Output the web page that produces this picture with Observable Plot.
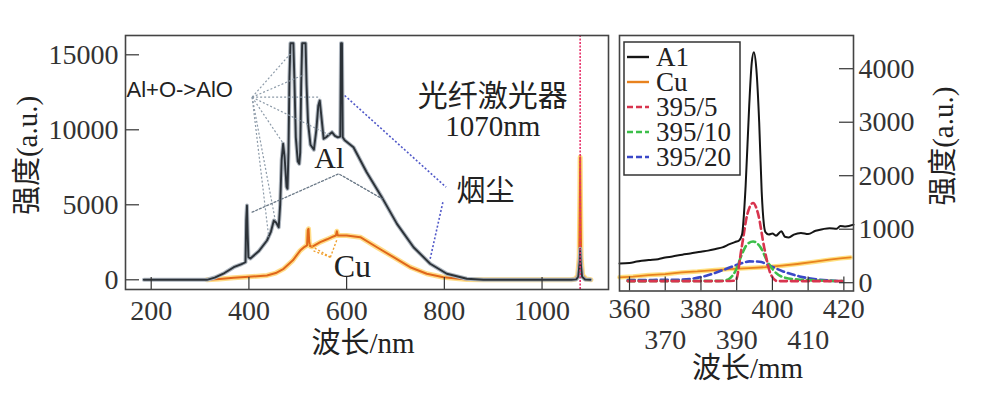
<!DOCTYPE html>
<html><head><meta charset="utf-8">
<script src="https://cdn.jsdelivr.net/npm/d3@7"></script>
<script src="https://cdn.jsdelivr.net/npm/@observablehq/plot@0.6"></script>
<style>
body{margin:0;background:#fff;}
#wrap{position:relative;width:981px;height:395px;overflow:hidden;background:#fff;}
#wrap svg{position:absolute;left:0;top:0;}
</style></head><body><div id="wrap"></div>
<script>
// ---------- Left panel data (wavelength nm, intensity a.u.) ----------
const alLeftX = [185,250,314,330,350,369,385,393,394.5,396,397.5,399,403,420,437,445,451,456,461,464,467,470,473,477,479,481,483,485,491,493,496,500,503,505,507,509,516,518,521,526,533,538,542,545,548,553,558,565,570,576,582,587,588.5,590.5,592,596,614,641,672,703,737,771,805,846,880,1060,1070,1074,1077,1078,1079,1082,1088,1099];
const alLeftY = [0,0,0,150,450,840,1050,1170,4000,4950,3000,1500,1420,1900,2620,3200,3950,3800,3500,5000,8000,9070,8200,6200,6070,8500,13500,15770,15770,13500,9500,7900,7730,8500,13000,15770,15770,13000,10500,9000,8670,10000,11600,11950,11000,9400,9500,9700,9840,9600,9500,9550,15770,15770,9500,9300,8840,7170,5510,3730,2170,1070,400,70,0,0,30,200,1200,2070,1200,200,20,0];
const cuLeftX = [314,340,369,400,437,455,471,490,505,514,519,520.5,522,523.5,525,529,546,560,573,578,580,582,600,628,662,696,730,764,798,846,880,1060,1068,1073,1076,1077.5,1078,1078.5,1080,1083,1090,1100];
const cuLeftY = [0,60,130,200,290,450,730,1300,1950,2200,2300,3300,3400,2500,2250,2200,2510,2700,2890,2950,3240,2950,2950,2840,2170,1510,840,400,170,20,0,0,50,300,1500,6000,8170,6000,1500,300,50,0];
const laserNm = [1078];
const xTicksLeft = [200,400,600,800,1000];
const yTicksLeft = [0,5000,10000,15000];

// annotation guide lines (data units)
const aloFromX = 406.6, aloFromY = 12173;
const aloToX = [485,512,546,567,469,440.6,454];
const aloToY = [15067,13667,12173,9620,9153,2840,3953];
const alPointerX = [406.6,583.8,672.6];
const alPointerY = [4507,7067,5400];
const smokeX1 = [596,797], smokeY1 = [12287,5173], smokeX2 = [803.6,771], smokeY2 = [6173,1400];
const cuFromX = 566.8, cuFromY = 1507;
const cuToX = [521.8,530,581];
const cuToY = [2353,1953,2753];
const noteText = ["Al","Cu","光纤激光器","1070nm","烟尘"];
const noteX = [564.6,611.9,899.3,899.3,884];
const noteY = [8093,893,12220,10187,5887];
const noteSize = [30,32,30,29,29];

// ---------- Right panel data (zoom around 395 nm) ----------
const alRightX = [357.2,360,362,365.4,368,370,372,374.8,377,380,382,384.1,386,388,390,390.6,391.5,392.5,393.5,394.2,394.8,395.5,396.3,397,397.6,398.1,399,400,401,402.5,403.5,404.6,406,408,410,412.1,414,416,418,419,420.5,422.7];
const alRightY = [360,370,395,424,440,470,490,524,545,580,600,630,660,720,770,785,900,1800,3300,4100,4307,4000,3000,1700,1100,940,900,920,880,960,860,847,900,930,910,972,1000,1020,1010,1060,1050,1085];
const cuRightX = [357.2,361,365.4,370,374.6,379,384,388,393.4,398,402.7,407,412,416,419,421.9];
const cuRightY = [100,115,143,160,193,210,237,255,274,290,318,350,393,430,455,473];
const red5X = [359.5,385,389.7,391.4,393.0,394.6,396.0,397.7,399.5,401.4,419.5];
const red5Y = [30,30,40,660,1285,1490,1285,660,163,30,30];
const green10X = [359.5,386,387.8,389.7,391.5,393,394.6,396.7,398.5,400.4,403.2,407.9,419.5];
const green10Y = [30,35,69,224,536,723,770,660,411,224,100,56,30];
const blue20X = [359.5,374,381.5,386.2,390.8,393.6,396.4,399.2,403,407.6,413.2,419.5];
const blue20Y = [50,56,131,237,350,398,393,318,211,118,56,30];
const xTicksRight = [360,370,380,390,400,410,420];
const xLabelsRow1 = [360,380,400,420];
const xLabelsRow2 = [370,390,410];
const yTicksRight = [0,1000,2000,3000,4000];
const legendNames = ["A1","Cu","395/5","395/10","395/20"];
const legendColors = ["#151515","#e8821e","#d8344e","#3cbf4a","#3a48c8"];
const legendDash = [null,null,"6,3","6,3","6,3"];

// ---------- helpers ----------
const zip = (xs, ys) => xs.map((x, i) => ({x, y: ys[i]}));
const serif = '"Liberation Serif","Noto Sans CJK SC",serif';
const ink = "#333";
const W = 981, H = 395;

// ---------- Left plot ----------
const L = {left:125, right:608, top:35, bottom:289};
const alL = zip(alLeftX, alLeftY), cuL = zip(cuLeftX, cuLeftY);
const aloLinks = aloToX.map((x, i) => ({x1: aloFromX, y1: aloFromY, x2: x, y2: aloToY[i]}));
const cuLinks = cuToX.map((x, i) => ({x1: cuFromX, y1: cuFromY, x2: x, y2: cuToY[i]}));
const smokeLinks = smokeX1.map((x, i) => ({x1: x, y1: smokeY1[i], x2: smokeX2[i], y2: smokeY2[i]}));
const notes = noteText.map((t, i) => ({t, x: noteX[i], y: noteY[i], s: noteSize[i]}));

const left = Plot.plot({
  width: W, height: H,
  marginLeft: L.left, marginRight: W - L.right, marginTop: L.top, marginBottom: H - L.bottom,
  x: {domain: [147.4, 1136]},
  y: {domain: [-647, 16287]},
  style: {background: "none", fontFamily: serif, fontSize: "28px", color: ink, overflow: "visible"},
  marks: [
    Plot.line(cuL, {x: "x", y: "y", stroke: "#ffd060", strokeWidth: 5, strokeOpacity: 0.75}),
    Plot.line(cuL, {x: "x", y: "y", stroke: "#e0661a", strokeWidth: 2}),
    Plot.line(alL, {x: "x", y: "y", stroke: "#aeb6bf", strokeWidth: 4}),
    Plot.line(alL, {x: "x", y: "y", stroke: "#2c3238", strokeWidth: 1.9}),
    Plot.ruleX(laserNm, {stroke: "#e8306a", strokeWidth: 1.6, strokeDasharray: "2,1.5"}),
    Plot.link(aloLinks, {x1: "x1", y1: "y1", x2: "x2", y2: "y2", stroke: "#8c9aa8", strokeWidth: 1.2, strokeDasharray: "2,2"}),
    Plot.line(zip(alPointerX, alPointerY), {x: "x", y: "y", stroke: "#6c7a88", strokeWidth: 1.3, strokeDasharray: "2,2"}),
    Plot.link(smokeLinks, {x1: "x1", y1: "y1", x2: "x2", y2: "y2", stroke: "#5058c8", strokeWidth: 1.6, strokeDasharray: "2,2"}),
    Plot.link(cuLinks, {x1: "x1", y1: "y1", x2: "x2", y2: "y2", stroke: "#f0a030", strokeWidth: 1.4, strokeDasharray: "2,2"}),
    Plot.text(["Al+O->AlO"], {x: [149.5], y: [12687], textAnchor: "start", fontFamily: '"Liberation Sans",sans-serif', fontSize: 22, fill: "#222"}),
    Plot.text(notes, {x: "x", y: "y", text: "t", fontSize: "s", fill: "#222"}),
    Plot.tickX(xTicksLeft, {x: d => d, insetTop: (L.bottom - L.top) - 12, stroke: "#333", strokeWidth: 1.2}),
    Plot.tickY(yTicksLeft, {y: d => d, insetRight: (L.right - L.left) - 14, stroke: "#333", strokeWidth: 1.2}),
    Plot.axisX({ticks: xTicksLeft, tickSize: 0, tickPadding: 11, tickFormat: d => String(d), label: null, fontSize: 28}),
    Plot.axisY({ticks: yTicksLeft, tickSize: 0, tickPadding: 7, tickFormat: d => String(d), label: null, fontSize: 28}),
    Plot.text(["强度(a.u.)"], {frameAnchor: "left", textAnchor: "middle", lineAnchor: "middle", dx: -98, dy: -7, rotate: -90, fontSize: 29, fill: "#222"}),
    Plot.text(["波长/nm"], {frameAnchor: "bottom", textAnchor: "middle", lineAnchor: "middle", dx: -4, dy: 54, fontSize: 29, fill: "#222"}),
    Plot.frame({stroke: "#444", strokeWidth: 1.6})
  ]
});

// ---------- Right plot ----------
const R = {left:619, right:853, top:35, bottom:290.5};
const right = Plot.plot({
  width: W, height: H,
  marginLeft: R.left, marginRight: W - R.right, marginTop: R.top, marginBottom: H - R.bottom,
  x: {domain: [357.2, 422.7]},
  y: {domain: [-155, 4621]},
  style: {background: "none", fontFamily: serif, fontSize: "28px", color: ink, overflow: "visible"},
  marks: [
    Plot.line(zip(cuRightX, cuRightY), {x: "x", y: "y", stroke: "#ffd860", strokeWidth: 4.5, strokeOpacity: 0.8}),
    Plot.line(zip(cuRightX, cuRightY), {x: "x", y: "y", stroke: "#e8821e", strokeWidth: 1.8}),
    Plot.line(zip(blue20X, blue20Y), {x: "x", y: "y", stroke: "#3a48c8", strokeWidth: 2.6, strokeDasharray: "7,4", curve: "monotone-x"}),
    Plot.line(zip(green10X, green10Y), {x: "x", y: "y", stroke: "#3cbf4a", strokeWidth: 2.6, strokeDasharray: "7,4", curve: "monotone-x"}),
    Plot.line(zip(red5X, red5Y), {x: "x", y: "y", stroke: "#d8344e", strokeWidth: 2.6, strokeDasharray: "7,4", curve: "monotone-x"}),
    Plot.line(zip(alRightX, alRightY), {x: "x", y: "y", stroke: "#151515", strokeWidth: 2, curve: "monotone-x"}),
    Plot.tickX(xTicksRight, {x: d => d, insetTop: (R.bottom - R.top) - 14, stroke: "#333", strokeWidth: 1.2}),
    Plot.tickY(yTicksRight, {y: d => d, insetLeft: (R.right - R.left) - 14, stroke: "#333", strokeWidth: 1.2}),
    Plot.axisX({ticks: xLabelsRow1, tickSize: 0, tickPadding: 7, tickFormat: d => String(d), label: null, fontSize: 28}),
    Plot.axisX({ticks: xLabelsRow2, tickSize: 0, tickPadding: 38, tickFormat: d => String(d), label: null, fontSize: 28}),
    Plot.axisY({anchor: "right", ticks: yTicksRight, tickSize: 0, tickPadding: 5, tickFormat: d => String(d), label: null, fontSize: 28}),
    Plot.text(["强度(a.u.)"], {frameAnchor: "right", textAnchor: "middle", lineAnchor: "middle", dx: 90, dy: -17, rotate: -90, fontSize: 29, fill: "#222"}),
    Plot.text(["波长/mm"], {frameAnchor: "bottom", textAnchor: "middle", lineAnchor: "middle", dx: 11, dy: 78, fontSize: 29, fill: "#222"}),
    Plot.frame({stroke: "#444", strokeWidth: 1.6})
  ]
});

const wrap = document.getElementById("wrap");
wrap.append(left, right);

// ---------- Legend (overlay) ----------
const lg = d3.create("svg").attr("width", W).attr("height", H)
  .style("font-family", serif).style("font-size", "27px");
lg.append("rect").attr("x", 624).attr("y", 42).attr("width", 116).attr("height", 133)
  .attr("fill", "#fff").attr("stroke", "#333").attr("stroke-width", 1.5);
legendNames.forEach((name, i) => {
  const cy = 57 + i * 25;
  const l = lg.append("line").attr("x1", 627).attr("x2", 649).attr("y1", cy).attr("y2", cy)
    .attr("stroke", legendColors[i]).attr("stroke-width", 2.4);
  if (legendDash[i]) l.attr("stroke-dasharray", legendDash[i]);
  lg.append("text").attr("x", 656).attr("y", cy).attr("dy", "0.35em").attr("fill", "#222").text(name);
});
wrap.append(lg.node());
</script></body></html>
